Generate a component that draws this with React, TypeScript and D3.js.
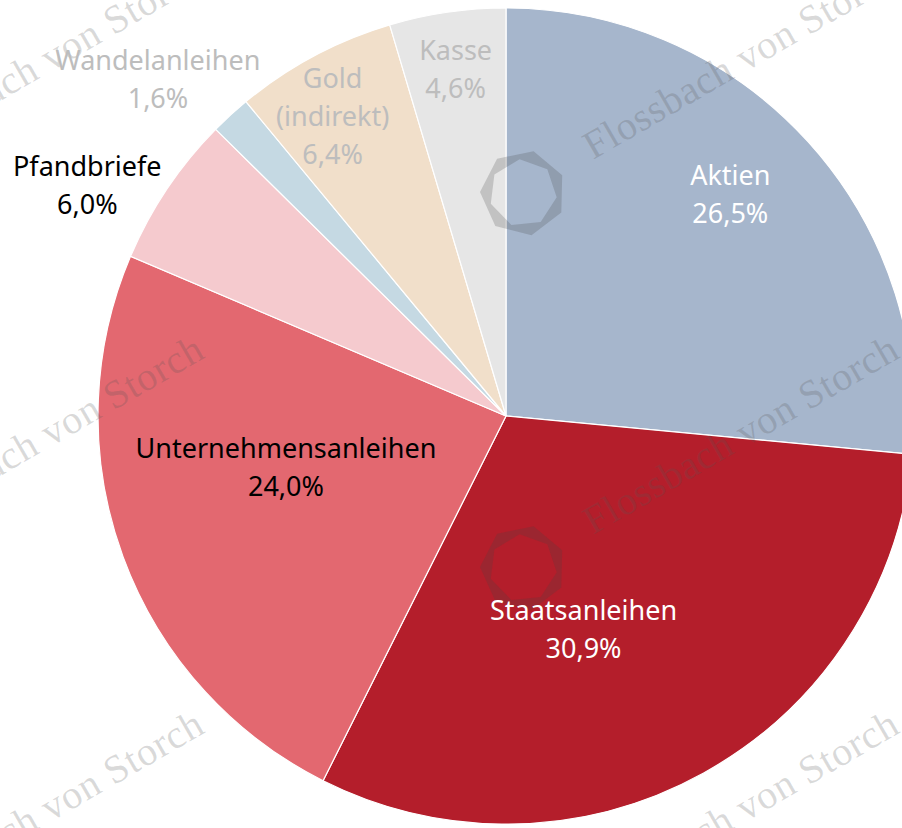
import React from 'react'
import * as d3 from 'd3'

// asset allocation, clockwise from 12 o'clock
const categories = ['Aktien', 'Staatsanleihen', 'Unternehmensanleihen', 'Pfandbriefe', 'Wandelanleihen', 'Gold (indirekt)', 'Kasse']
const labelLines = [['Aktien'], ['Staatsanleihen'], ['Unternehmensanleihen'], ['Pfandbriefe'], ['Wandelanleihen'], ['Gold', '(indirekt)'], ['Kasse']]
const shares = [26.5, 30.9, 24.0, 6.0, 1.6, 6.4, 4.6]
const percentLabels = ['26,5%', '30,9%', '24,0%', '6,0%', '1,6%', '6,4%', '4,6%']

const colors = ['#a6b6cc', '#b41e2b', '#e36870', '#f5cace', '#c5d9e3', '#f1dfca', '#e6e6e6']
const labelColors = ['#ffffff', '#ffffff', '#000000', '#000000', '#bdbdbd', '#bdbdbd', '#bdbdbd']
// label placement: distance from the centre and angle nudge (degrees)
const labelRadius = [315, 227, 226, 478, 484, 346, 350]
const labelNudge = [-2.3, 9, 7, -5, -3.5, -2, 0]

const W = 902
const H = 828
const cx = 506
const cy = 416
const R = 408
const lineH = 38
const fontSize = 27

function heptagon(r: number, rot: number) {
  const pts = d3.range(7).map(i => {
    const a = rot + (i * 2 * Math.PI) / 7
    return [r * Math.sin(a), -r * Math.cos(a)]
  })
  return 'M' + pts.map(p => p[0].toFixed(1) + ',' + p[1].toFixed(1)).join('L') + 'Z'
}

export default function App() {
  const pie = d3.pie<number>().sort(null).value(d => d)
  const arcs = pie(shares)
  const arc = d3.arc<d3.PieArcDatum<number>>().innerRadius(0).outerRadius(R)

  // watermark tiles
  const tiles: [number, number][] = []
  for (let i = -1; i <= 0; i++) {
    for (let j = -1; j <= 1; j++) {
      tiles.push([593 + i * 695, 535 + j * 375])
    }
  }
  const logoPath = heptagon(43, 0.25) + heptagon(34, -0.1)

  return (
    <svg width={W} height={H} style={{ position: 'absolute', left: 0, top: 0, background: '#fff' }}>
      <g transform={`translate(${cx},${cy})`}>
        {arcs.map((a, i) => (
          <path key={categories[i]} d={arc(a) || ''} fill={colors[i]} stroke="#fff" strokeWidth={1.2} />
        ))}
      </g>
      <g>
        {tiles.map(([x, y], k) => (
          <g key={k}>
            <text
              x={x}
              y={y}
              transform={`rotate(-30,${x},${y})`}
              fontFamily="'Liberation Serif', serif"
              fontSize={40}
              textLength={356}
              fill="#555"
              fillOpacity={0.22}
            >
              Flossbach von Storch
            </text>
            <path d={logoPath} transform={`translate(${x - 70},${y + 33})`} fill="#444" fillOpacity={0.22} fillRule="evenodd" />
          </g>
        ))}
      </g>
      <g transform={`translate(${cx},${cy})`} fontFamily="'Noto Sans', sans-serif" fontSize={fontSize} textAnchor="middle">
        {arcs.map((a, i) => {
          const ang = (a.startAngle + a.endAngle) / 2 + (labelNudge[i] * Math.PI) / 180
          const lx = labelRadius[i] * Math.sin(ang)
          const ly = -labelRadius[i] * Math.cos(ang)
          const lines = [...labelLines[i], percentLabels[i]]
          const y0 = ly - ((lines.length - 1) * lineH) / 2
          return (
            <text key={categories[i]} fill={labelColors[i]}>
              {lines.map((t, k) => (
                <tspan key={k} x={lx} y={y0 + k * lineH} dy="0.35em">
                  {t}
                </tspan>
              ))}
            </text>
          )
        })}
      </g>
    </svg>
  )
}
